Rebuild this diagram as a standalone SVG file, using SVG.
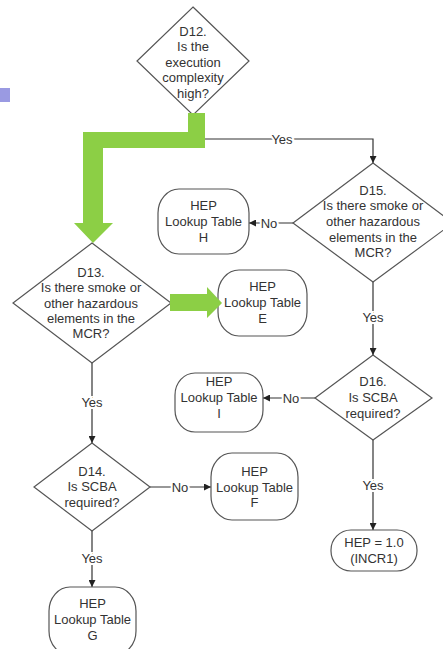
<svg xmlns="http://www.w3.org/2000/svg" width="443" height="649" viewBox="0 0 443 649">
<defs>
<marker id="ah" viewBox="0 0 10 10" refX="10" refY="5" markerWidth="7" markerHeight="7" markerUnits="userSpaceOnUse" orient="auto">
<path d="M0,0 L10,5 L0,10 z" fill="#222"/>
</marker>
<style>
.shape{fill:#fff;stroke:#555;stroke-width:1.2}
.t{font-family:"Liberation Sans",Arial,sans-serif;font-size:13px;fill:#333;text-anchor:middle}
.conn{fill:none;stroke:#333;stroke-width:1.2}
.lbl{font-family:"Liberation Sans",Arial,sans-serif;font-size:13px;fill:#333;text-anchor:middle;stroke:#fff;stroke-width:4;paint-order:stroke}
.green{fill:#8ccf45}
</style>
</defs>
<rect x="0" y="88" width="10" height="14" fill="#9a9ae2"/>
<g id="connectors">
<path class="conn" d="M205,139 H373 V163" marker-end="url(#ah)"/>
<path class="conn" d="M293,223 H249" marker-end="url(#ah)"/>
<path class="conn" d="M373,282 V355" marker-end="url(#ah)"/>
<path class="conn" d="M315,398 H263" marker-end="url(#ah)"/>
<path class="conn" d="M373,440 V530" marker-end="url(#ah)"/>
<path class="conn" d="M92,363 V443" marker-end="url(#ah)"/>
<path class="conn" d="M150,487 H211" marker-end="url(#ah)"/>
<path class="conn" d="M92,531 V587" marker-end="url(#ah)"/>
<text class="lbl" x="282" y="143.5">Yes</text>
<text class="lbl" x="269" y="227.5">No</text>
<text class="lbl" x="373" y="321.5">Yes</text>
<text class="lbl" x="291" y="402.5">No</text>
<text class="lbl" x="373" y="489.5">Yes</text>
<text class="lbl" x="92" y="406.5">Yes</text>
<text class="lbl" x="180" y="491.5">No</text>
<text class="lbl" x="92" y="562.5">Yes</text>
</g>
<g id="D12">
<polygon class="shape" points="193,7 249,61 193,115 137,61"/>
<text class="t" x="193" y="35.5">D12.</text>
<text class="t" x="193" y="50.5">Is the</text>
<text class="t" x="193" y="66.5">execution</text>
<text class="t" x="193" y="82">complexity</text>
<text class="t" x="193" y="97.5">high?</text>
</g>
<g id="D15">
<polygon class="shape" points="373,163 453,223 373,282 293,223"/>
<text class="t" x="373" y="194.5">D15.</text>
<text class="t" x="373" y="210">Is there smoke or</text>
<text class="t" x="373" y="226">other hazardous</text>
<text class="t" x="373" y="241.5">elements in the</text>
<text class="t" x="373" y="257">MCR?</text>
</g>
<g id="H">
<rect class="shape" x="158" y="189" width="91" height="65" rx="21" ry="24"/>
<text class="t" x="203.5" y="209.5">HEP</text>
<text class="t" x="203.5" y="226">Lookup Table</text>
<text class="t" x="203.5" y="241.5">H</text>
</g>
<g id="D13">
<polygon class="shape" points="92,243 171,303 92,363 13,303"/>
<text class="t" x="91" y="276.5">D13.</text>
<text class="t" x="91" y="291.5">Is there smoke or</text>
<text class="t" x="91" y="307.5">other hazardous</text>
<text class="t" x="91" y="322.5">elements in the</text>
<text class="t" x="91" y="338">MCR?</text>
</g>
<g id="E">
<rect class="shape" x="218" y="270" width="89" height="66" rx="21" ry="24"/>
<text class="t" x="262.5" y="291">HEP</text>
<text class="t" x="262.5" y="307">Lookup Table</text>
<text class="t" x="262.5" y="322.5">E</text>
</g>
<g id="D16">
<polygon class="shape" points="373,355 432,398 373,440 315,398"/>
<text class="t" x="373" y="386">D16.</text>
<text class="t" x="373" y="402">Is SCBA</text>
<text class="t" x="373" y="417.5">required?</text>
</g>
<g id="I">
<rect class="shape" x="175" y="373" width="88" height="59" rx="20" ry="22"/>
<text class="t" x="219" y="385.5">HEP</text>
<text class="t" x="219" y="402">Lookup Table</text>
<text class="t" x="219" y="417.5">I</text>
</g>
<g id="D14">
<polygon class="shape" points="92,443 150,487 92,531 34,487"/>
<text class="t" x="92" y="475.5">D14.</text>
<text class="t" x="92" y="491">Is SCBA</text>
<text class="t" x="92" y="506.5">required?</text>
</g>
<g id="F">
<rect class="shape" x="211" y="453" width="87" height="67" rx="21" ry="24"/>
<text class="t" x="254.5" y="475.5">HEP</text>
<text class="t" x="254.5" y="491.5">Lookup Table</text>
<text class="t" x="254.5" y="507">F</text>
</g>
<g id="HEP10">
<rect class="shape" x="331" y="530" width="86" height="41" rx="20" ry="20"/>
<text class="t" x="374" y="546.5">HEP = 1.0</text>
<text class="t" x="374" y="563">(INCR1)</text>
</g>
<g id="G">
<rect class="shape" x="49" y="587" width="87" height="68" rx="21" ry="24"/>
<text class="t" x="92.5" y="607.5">HEP</text>
<text class="t" x="92.5" y="624">Lookup Table</text>
<text class="t" x="92.5" y="639.5">G</text>
</g>
<g id="green-arrows">
<polygon class="green" points="188,113 205,113 205,148 103,148 103,223 113,223 93,243 74,223 83,223 83,132 188,132"/>
<polygon class="green" points="170,294 207,294 207,287 222,303 207,318 207,311 170,311"/>
</g>
</svg>
